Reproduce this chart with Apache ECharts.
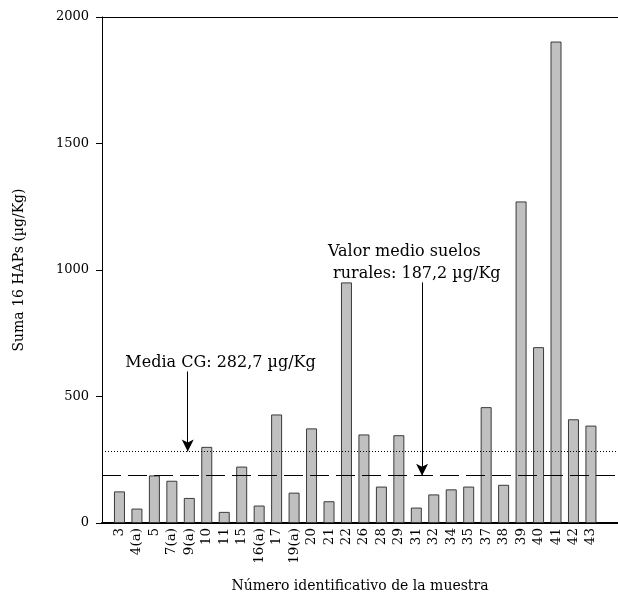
<!DOCTYPE html>
<html>
<head>
<meta charset="utf-8">
<script src="https://cdn.jsdelivr.net/npm/echarts@6/dist/echarts.min.js"></script>
<style>
  html, body { margin: 0; padding: 0; background: #fff; }
  #chart { width: 618px; height: 598px; }
</style>
</head>
<body>
<div id="chart"></div>
<script>
// sample ids and their sum of 16 PAHs (ug/Kg)
const muestras = ["3", "4(a)", "5", "7(a)", "9(a)", "10", "11", "15", "16(a)", "17",
  "19(a)", "20", "21", "22", "26", "28", "29", "31", "32", "34", "35", "37", "38",
  "39", "40", "41", "42", "43"];
const sumaHAPs = [125, 57, 188, 167, 99, 301, 44, 223, 69, 429,
  120, 374, 86, 951, 350, 144, 347, 61, 113, 133, 144, 458, 151,
  1271, 695, 1903, 410, 385];

const mediaCG = 282.7;
const mediaRural = 187.2;
const yTicks = [0, 500, 1000, 1500, 2000];

// annotation arrows: [x index, y start, y end]
const flechaCG = [3.91, 599, mediaCG];
const flechaRural = [17.33, 951, mediaRural];

const font = "DejaVu Serif";

var chart = echarts.init(document.getElementById("chart"));

const option = {
  animation: false,
  grid: { left: 102, right: 0, top: 17, bottom: 70 },
  xAxis: [
    {
      type: "value",
      min: -1,
      max: 28.55,
      interval: 1,
      name: "Número identificativo de la muestra",
      nameLocation: "middle",
      nameGap: 56,
      nameTextStyle: { fontFamily: font, fontSize: 14, color: "#000" },
      axisLine: { show: true, onZero: false, lineStyle: { color: "#000", width: 2 } },
      axisTick: { show: false },
      splitLine: { show: false },
      axisLabel: {
        rotate: 90,
        margin: 5,
        fontFamily: font,
        fontSize: 13.5,
        color: "#000",
        showMinLabel: true,
        showMaxLabel: false,
        formatter: function (v) {
          return muestras[v] !== undefined ? muestras[v] : "";
        },
      },
    },
    {
      type: "value",
      position: "top",
      min: -1,
      max: 28.55,
      axisLine: { show: true, onZero: false, lineStyle: { color: "#000", width: 1 } },
      axisTick: { show: false },
      axisLabel: { show: false },
      splitLine: { show: false },
    },
  ],
  yAxis: {
    type: "value",
    min: yTicks[0],
    max: yTicks[yTicks.length - 1],
    interval: 500,
    name: "Suma 16 HAPs (µg/Kg)",
    nameLocation: "middle",
    nameGap: 76,
    nameTextStyle: { fontFamily: font, fontSize: 14, color: "#000" },
    axisLine: { show: true, onZero: false, lineStyle: { color: "#000", width: 1 } },
    axisTick: { show: true, length: 6, lineStyle: { color: "#000" } },
    splitLine: { show: false },
    axisLabel: {
      fontFamily: font,
      fontSize: 13,
      color: "#000",
      margin: 13,
      formatter: function (v) { return String(v); },
    },
  },
  series: [
    {
      type: "bar",
      data: muestras.map((m, i) => [i, sumaHAPs[i]]),
      barWidth: 11,
      itemStyle: { color: "#c0c0c0", borderColor: "#3a3a3a", borderWidth: 1 },
      markLine: {
        silent: true,
        symbol: "none",
        label: { show: false },
        data: [
          { yAxis: mediaCG, lineStyle: { color: "#000", width: 1, type: [1, 2] } },
          { yAxis: mediaRural, lineStyle: { color: "#000", width: 1, type: [19, 7] } },
        ],
      },
    },
    {
      type: "line",
      data: [],
      markLine: {
        silent: true,
        symbol: ["none", "arrow"],
        symbolSize: [9, 12],
        label: { show: false },
        lineStyle: { color: "#000", width: 1, type: "solid" },
        data: [
          [{ coord: [flechaCG[0], flechaCG[1]] }, { coord: [flechaCG[0], flechaCG[2]] }],
          [{ coord: [flechaRural[0], flechaRural[1]] }, { coord: [flechaRural[0], flechaRural[2]] }],
        ],
      },
      markPoint: {
        silent: true,
        symbolSize: 0,
        label: {
          show: true,
          position: "inside",
          fontFamily: font,
          fontSize: 16,
          color: "#000",
          lineHeight: 22,
        },
        data: [
          {
            coord: [5.79, 635],
            label: { formatter: "Media CG: 282,7 µg/Kg", align: "center" },
          },
          {
            coord: [11.94, 1030],
            label: { formatter: "Valor medio suelos\n rurales: 187,2 µg/Kg", align: "left" },
          },
        ],
      },
    },
  ],
};
chart.setOption(option);
</script>
</body>
</html>
